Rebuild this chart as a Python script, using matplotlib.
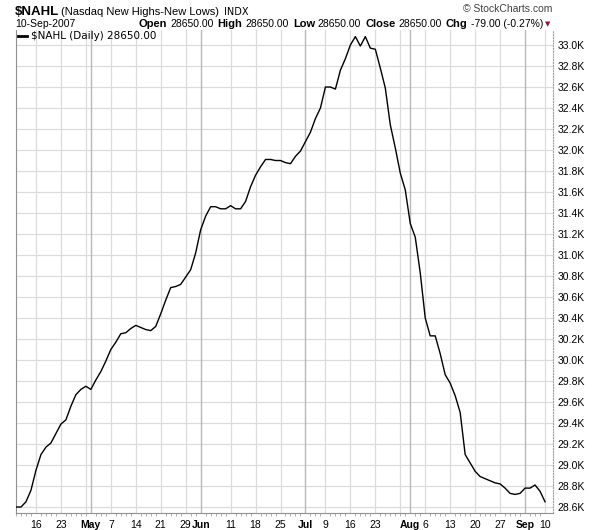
import matplotlib
matplotlib.use("Agg")
import matplotlib.pyplot as plt
from matplotlib.lines import Line2D
import pandas as pd

# trading days Apr 10 - Sep 10, 2007 (US market holidays removed)
holidays = ["2007-05-28", "2007-07-04", "2007-09-03"]
days = [d for d in pd.bdate_range("2007-04-10", "2007-09-10")
        if d.strftime("%Y-%m-%d") not in holidays]

# $NAHL daily close, in thousands
nahl = [28.60, 28.60, 28.65, 28.76, 28.95, 29.10, 29.17, 29.21, 29.30, 29.39,
        29.43, 29.56, 29.67, 29.72, 29.75, 29.72, 29.81, 29.89, 29.99, 30.10,
        30.17, 30.25, 30.26, 30.30, 30.33, 30.31, 30.29, 30.28, 30.32, 30.44,
        30.57, 30.69, 30.70, 30.72, 30.79, 30.86, 31.02, 31.24, 31.37, 31.46,
        31.46, 31.44, 31.44, 31.47, 31.44, 31.44, 31.51, 31.65, 31.76, 31.84,
        31.91, 31.91, 31.90, 31.90, 31.88, 31.87, 31.94, 31.99, 32.08, 32.17,
        32.30, 32.40, 32.60, 32.60, 32.58, 32.76, 32.87, 33.00, 33.08, 32.99,
        33.08, 32.97, 32.96, 32.78, 32.59, 32.24, 32.02, 31.78, 31.62, 31.30,
        31.17, 30.83, 30.40, 30.23, 30.23, 30.06, 29.86, 29.78, 29.66, 29.50,
        29.10, 29.02, 28.94, 28.89, 28.87, 28.85, 28.83, 28.82, 28.78, 28.73,
        28.72, 28.73, 28.78, 28.78, 28.81, 28.75, 28.65]

week_lines = ["2007-04-16", "2007-04-23", "2007-04-30", "2007-05-07", "2007-05-14",
              "2007-05-21", "2007-05-29", "2007-06-11", "2007-06-18", "2007-06-25",
              "2007-07-09", "2007-07-16", "2007-07-23", "2007-07-30", "2007-08-06",
              "2007-08-13", "2007-08-20", "2007-08-27", "2007-09-10"]
month_lines = ["2007-05-01", "2007-06-01", "2007-07-02", "2007-08-01", "2007-09-04"]
tick_dates = ["2007-04-16", "2007-04-23", "2007-05-01", "2007-05-07", "2007-05-14",
              "2007-05-21", "2007-05-29", "2007-06-01", "2007-06-11", "2007-06-18",
              "2007-06-25", "2007-07-02", "2007-07-09", "2007-07-16", "2007-07-23",
              "2007-08-01", "2007-08-06", "2007-08-13", "2007-08-20", "2007-08-27",
              "2007-09-04", "2007-09-10"]
tick_text = ["16", "23", "May", "7", "14", "21", "29", "Jun", "11", "18", "25",
             "Jul", "9", "16", "23", "Aug", "6", "13", "20", "27", "Sep", "10"]
y_ticks = [28.6 + 0.2 * k for k in range(23)]

day_str = [d.strftime("%Y-%m-%d") for d in days]


def idx(s):
    return day_str.index(s)


W, H = 600, 530
fig = plt.figure(figsize=(6, 5.3), dpi=100)
plt.rcParams['font.family'] = ['Liberation Sans', 'DejaVu Sans']


def px(x, y):
    return x / W, 1 - y / H


# plot box in pixels: x 16..553, y 30..513
ax = fig.add_axes([16 / W, (H - 513) / H, (553 - 16) / W, (513 - 30) / H])
xs = list(range(len(nahl)))
ax.set_xlim(0.2, 107.6)
ax.set_ylim(28.543, 33.143)

for v in y_ticks:
    ax.axhline(v, color='#dcdcdc', lw=0.9, zorder=1)
for s in week_lines:
    ax.axvline(idx(s), color='#dcdcdc', lw=0.9, zorder=1)
for s in month_lines:
    ax.axvline(idx(s), color='#b8b8b8', lw=1.0, zorder=1)

ax.plot(xs, nahl, color='black', lw=1.0, zorder=3)

ax.yaxis.tick_right()
ax.set_yticks(y_ticks)
ax.set_yticklabels(["%.1fK" % v for v in y_ticks], fontsize=7.5)
ax.tick_params(axis='y', length=0, pad=3)

ax.set_xticks([idx(s) for s in tick_dates])
ax.set_xticklabels(tick_text, fontsize=7.5)
for lab in ax.get_xticklabels():
    if lab.get_text() in ("May", "Jun", "Jul", "Aug", "Sep"):
        lab.set_fontweight('bold')
ax.set_xticks(xs, minor=True)
ax.tick_params(axis='x', which='major', length=0, pad=5)
ax.tick_params(axis='x', which='minor', length=2, color='#a0a0a0', width=0.6)

ax.spines['top'].set_visible(False)
ax.spines['left'].set_color('#909090')
ax.spines['bottom'].set_color('#909090')
ax.spines['right'].set_color('#a0a0a0')
ax.spines['right'].set_linestyle((0, (1, 1.5)))
ax.spines['right'].set_linewidth(0.8)

# legend row inside the plot
fig.add_artist(Line2D([18 / W, 27 / W], [1 - 36 / H, 1 - 36 / H],
                      color='black', lw=2))
fig.text(*px(31, 36), "$NAHL (Daily) 28650.00", fontsize=7.5,
         family='DejaVu Sans', va='center')

# header
fig.text(*px(15, 12), "$NAHL", fontsize=9.5, fontweight='bold', va='center')
fig.text(*px(61, 12), "(Nasdaq New Highs-New Lows)", fontsize=8, va='center')
fig.text(*px(224, 12), "INDX", fontsize=7, family='DejaVu Sans', va='center')
fig.text(*px(552, 9), "\u00a9 StockCharts.com", fontsize=7.5, ha='right',
         va='center', color='#404040')
fig.text(*px(15, 24), "10-Sep-2007", fontsize=7.5, va='center')

pieces = [("Open", 'bold'), ("28650.00", 'normal'), ("High", 'bold'),
          ("28650.00", 'normal'), ("Low", 'bold'), ("28650.00", 'normal'),
          ("Close", 'bold'), ("28650.00", 'normal'), ("Chg", 'bold'),
          ("-79.00 (-0.27%)", 'normal')]
gaps = [3, 4, 3, 4, 3, 4, 3, 4, 3, 0]
r = fig.canvas.get_renderer()
arts = []
widths = []
for t, w in pieces:
    a = fig.text(0, 1 - 24 / H, t, fontsize=8 if w == 'bold' else 7.5,
                 fontweight=w, va='center')
    arts.append(a)
    widths.append(a.get_window_extent(r).width)
x = 543 - sum(widths) - sum(gaps)
for a, wd, g in zip(arts, widths, gaps):
    a.set_x(x / W)
    x += wd + g
fig.text(*px(548, 24), "\u25bc", fontsize=5, color='#8b1a3a', ha='center',
         va='center', family='DejaVu Sans')

fig.savefig("out.png", dpi=100)
